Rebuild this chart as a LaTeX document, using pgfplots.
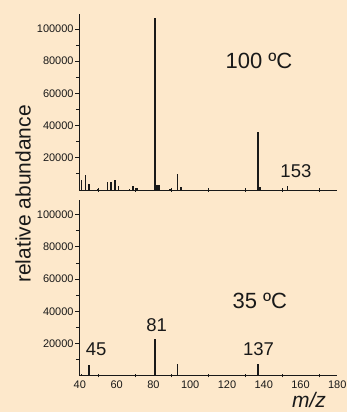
\documentclass[border=0pt]{standalone}
\usepackage{pgfplots}
\pgfplotsset{compat=1.18}
\usepackage{fontspec}
\setmainfont{Liberation Sans}
\definecolor{bgc}{RGB}{253,232,203}
\definecolor{ink}{RGB}{25,25,25}
\pgfplotsset{
  specax/.style={
    scale only axis, width=258pt, height=176pt,
    xmin=39.7, xmax=180, ymin=0, ymax=109300,
    axis x line=bottom, axis y line=left,
    axis line style={-, ink, line width=0.9pt},
    xtick={40,60,...,180},
    minor xtick={50,70,...,170},
    ytick={20000,40000,...,100000},
    minor ytick={10000,30000,...,110000},
    tick style={ink, line width=0.8pt},
    major tick length=4pt, minor tick length=3.5pt,
    major x tick style={draw=none},
    xtick align=center,
    ytick align=outside,
    /pgf/number format/assume math mode=true,
    scaled y ticks=false,
    yticklabel style={/pgf/number format/fixed, /pgf/number format/set thousands separator={}, font=\fontsize{11}{12}\selectfont, text=ink, inner sep=1.5pt},
    xticklabel style={font=\fontsize{11}{12}\selectfont, text=ink, inner sep=1pt, yshift=-2pt},
    clip=false,
  },
}
\begin{document}
\begin{tikzpicture}
\fill[bgc] (0,0) rectangle (347pt,412pt);
\clip (0,0) rectangle (347pt,412pt);
% top panel: 100 C
\begin{axis}[specax, at={(79.3pt,222pt)}, anchor=south west, xticklabels={}]
\addplot[ycomb, no markers, ink, line width=1.6pt] coordinates {
(41,6200) (43,9100) (45,3700) (50,600) (55,5000) (57,5000) (59,6400) (61,2500)
(67,800) (69,2700) (71,1000) (81,106600) (82,3100) (83,3100) (89,800)
(93,9900) (95,1900) (137,36200) (138,1900) (153,2700)
};
\node[font=\fontsize{22}{24}\selectfont, text=ink] at (axis cs:137.4,79900) {100 ºC};
\node[font=\fontsize{18.5}{20}\selectfont, text=ink] at (axis cs:157.5,11800) {153};
\end{axis}
% bottom panel: 35 C
\begin{axis}[specax, at={(79.3pt,36.3pt)}, anchor=south west]
\addplot[ycomb, no markers, ink, line width=1.6pt] coordinates {
(41,1000) (43,700) (45,6600) (55,600) (81,22800) (93,7400) (137,7300)
};
\node[font=\fontsize{22}{24}\selectfont, text=ink] at (axis cs:137.9,46200) {35 ºC};
\node[font=\fontsize{18.5}{20}\selectfont, text=ink] at (axis cs:81.8,31500) {81};
\node[font=\fontsize{18.5}{20}\selectfont, text=ink] at (axis cs:48.9,16600) {45};
\node[font=\fontsize{18.5}{20}\selectfont, text=ink] at (axis cs:137.2,16600) {137};
\end{axis}
\node[rotate=90, font=\fontsize{21}{23}\selectfont, text=ink] at (23pt,218pt) {relative abundance};
\node[font=\fontsize{21}{23}\selectfont\itshape, text=ink, inner sep=1pt] at (309pt,12.5pt) {m/z};
\end{tikzpicture}
\end{document}
